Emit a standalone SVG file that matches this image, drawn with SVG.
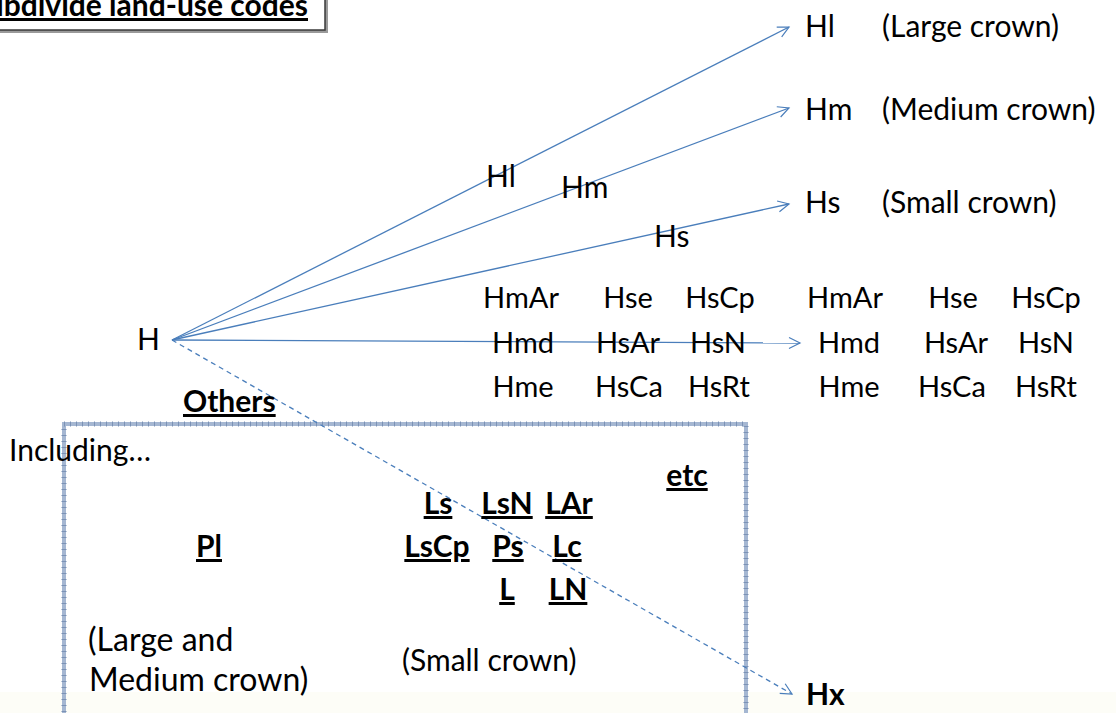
<svg xmlns="http://www.w3.org/2000/svg" width="1116" height="713" viewBox="0 0 1116 713">
  <defs>
    <marker id="chev" viewBox="-12 -7 14 14" markerWidth="14" markerHeight="14" refX="0" refY="0" orient="auto" markerUnits="userSpaceOnUse">
      <path d="M-11,-5.5 L0,0 L-11,5.5" fill="none" stroke="#4a7ebb" stroke-width="1.2"/>
    </marker>
    <style>
      text { font-family: Lato, "Liberation Sans", sans-serif; fill: #000; font-size: 30px; }
      .g { font-size: 29px; }
      .big { font-size: 32px; }
      .c { text-anchor: middle; }
      .b { font-weight: bold; text-decoration: underline; }
      .link { stroke: #4a7ebb; stroke-width: 1.3; fill: none; }
      .dash { stroke-dasharray: 5 4; }
    </style>
  </defs>

  <rect width="1116" height="713" fill="#ffffff"/>
  <!-- faint band along the lower edge -->
  <rect x="0" y="692" width="1116" height="21" fill="#fdfdf7"/>

  <!-- title box -->
  <g id="title">
    <rect x="-8" y="-8" width="336" height="41" fill="#9a9a9a"/>
    <rect x="-8" y="-8" width="333" height="38" fill="#ffffff" stroke="#3a3a3a" stroke-width="1.5"/>
    <text x="308" y="16" class="b" text-anchor="end">Subdivide land-use codes</text>
  </g>

  <!-- framed "Others" area -->
  <g id="others-frame">
    <rect x="64" y="424" width="682" height="320" fill="none" stroke="#a5b7d2" stroke-width="4"/>
    <rect x="64" y="424" width="682" height="320" fill="none" stroke="#7b92b6" stroke-width="5" stroke-dasharray="1 5"/>
  </g>

  <!-- connectors -->
  <g id="connectors">
    <line class="link" x1="172" y1="340" x2="789" y2="27" marker-end="url(#chev)"/>
    <line class="link" x1="172" y1="340" x2="789" y2="108" marker-end="url(#chev)"/>
    <line class="link" x1="172" y1="340" x2="789" y2="204" marker-end="url(#chev)"/>
    <line class="link" x1="172" y1="340" x2="800" y2="343" marker-end="url(#chev)"/>
    <line class="link dash" x1="172" y1="340" x2="792" y2="694" marker-end="url(#chev)"/>
  </g>

  <g id="node-H"><text x="137" y="350">H</text></g>

  <!-- branch labels -->
  <g id="edge-labels">
    <text x="486" y="187">Hl</text>
    <text x="561" y="198">Hm</text>
    <text x="654" y="247">Hs</text>
  </g>

  <g id="node-Hl"><text x="805" y="37">Hl</text><text x="882" y="37">(Large crown)</text></g>
  <g id="node-Hm"><text x="805" y="120">Hm</text><text x="882" y="120">(Medium crown)</text></g>
  <g id="node-Hs"><text x="805" y="213">Hs</text><text x="882" y="213">(Small crown)</text></g>

  <!-- intermediate code grid -->
  <g id="codes-source">
    <text x="521" y="308" class="g c">HmAr</text>
    <text x="628" y="308" class="g c">Hse</text>
    <text x="720" y="308" class="g c">HsCp</text>
    <text x="523" y="353" class="g c">Hmd</text>
    <text x="628" y="353" class="g c">HsAr</text>
    <text x="718" y="353" class="g c">HsN</text>
    <text x="523" y="397" class="g c">Hme</text>
    <text x="629" y="397" class="g c">HsCa</text>
    <text x="719" y="397" class="g c">HsRt</text>
  </g>

  <g id="codes-target">
    <text x="845" y="308" class="g c">HmAr</text>
    <text x="953" y="308" class="g c">Hse</text>
    <text x="1046" y="308" class="g c">HsCp</text>
    <text x="849" y="353" class="g c">Hmd</text>
    <text x="956" y="353" class="g c">HsAr</text>
    <text x="1046" y="353" class="g c">HsN</text>
    <text x="849" y="397" class="g c">Hme</text>
    <text x="952" y="397" class="g c">HsCa</text>
    <text x="1046" y="397" class="g c">HsRt</text>
  </g>

  <g id="others">
    <text x="183" y="412" class="b">Others</text>
    <text x="9" y="461">Including…</text>
    <text x="687" y="486" class="c b">etc</text>
    <text x="209" y="557" class="c b">Pl</text>
    <text x="438" y="514" class="c b">Ls</text>
    <text x="507" y="514" class="c b">LsN</text>
    <text x="569" y="514" class="c b">LAr</text>
    <text x="437" y="557" class="c b">LsCp</text>
    <text x="508" y="557" class="c b">Ps</text>
    <text x="567" y="557" class="c b">Lc</text>
    <text x="507" y="600" class="c b">L</text>
    <text x="568" y="600" class="c b">LN</text>
    <text x="88" y="651" class="big">(Large and</text>
    <text x="89" y="691" class="big">Medium crown)</text>
    <text x="402" y="671" font-size="31">(Small crown)</text>
  </g>

  <g id="node-Hx"><text x="806" y="705" font-weight="bold">Hx</text></g>
</svg>
